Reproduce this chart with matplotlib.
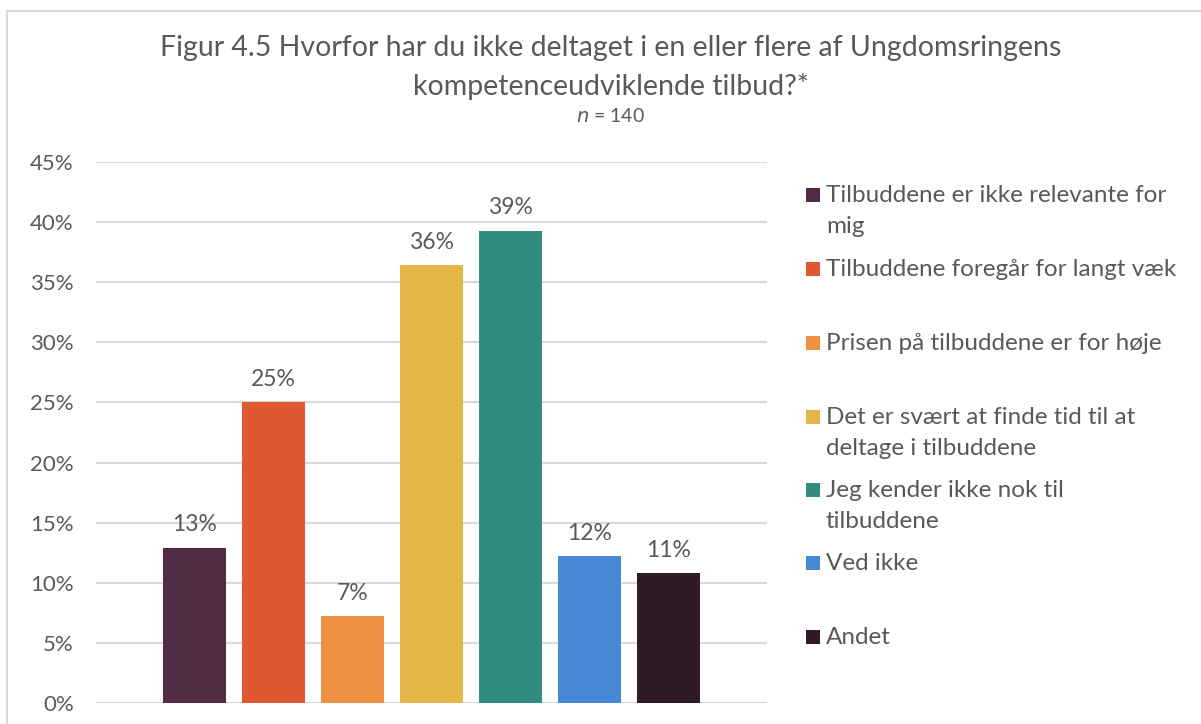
import matplotlib
matplotlib.use("Agg")
import matplotlib.pyplot as plt
from matplotlib.patches import Rectangle
from matplotlib.ticker import FuncFormatter

# ---- data ----
categories = [
    "Tilbuddene er ikke relevante for\nmig",
    "Tilbuddene foregår for langt væk",
    "Prisen på tilbuddene er for høje",
    "Det er svært at finde tid til at\ndeltage i tilbuddene",
    "Jeg kender ikke nok til\ntilbuddene",
    "Ved ikke",
    "Andet",
]
values = [0.129, 0.250, 0.072, 0.364, 0.393, 0.122, 0.108]
value_labels = ["13%", "25%", "7%", "36%", "39%", "12%", "11%"]
colors = ["#522b44", "#e05830", "#ee9142", "#e3b646", "#318b7e", "#4688d6", "#2f1b27"]
yticks = [0, 0.05, 0.10, 0.15, 0.20, 0.25, 0.30, 0.35, 0.40, 0.45]

plt.rcParams['font.family'] = ['Lato', 'DejaVu Sans']
TXT = "#595959"
W, H = 1201, 724
fig = plt.figure(figsize=(W / 100, H / 100), dpi=100)

# outer border
fig.patches.append(Rectangle((7 / W, -0.05), 1.2, 1 - 11 / H + 0.05,
                             transform=fig.transFigure, fill=False,
                             edgecolor="#d9d9d9", linewidth=1.5))

ax = fig.add_axes([96 / W, 1 - 703 / H, (767 - 96) / W, (703 - 162) / H])
n = len(values)
step = 79
bw = 63
left_margin = 67 + bw / 2
total = 671
xs = [(left_margin + i * step) for i in range(n)]
bars = ax.bar(xs, values, width=bw, color=colors, zorder=3)
for b, lab in zip(bars, value_labels):
    ax.annotate(lab, (b.get_x() + b.get_width() / 2, b.get_height()),
                xytext=(0, 9), textcoords="offset points", ha="center", va="bottom",
                fontsize=16.5, color=TXT)

ax.set_xlim(0, total)
ax.set_ylim(0, 0.45)
ax.set_yticks(yticks)
ax.yaxis.set_major_formatter(FuncFormatter(lambda v, p: f"{round(v * 100)}%"))
ax.tick_params(axis="y", length=0, labelsize=16, labelcolor=TXT, pad=16)
ax.set_xticks([])
ax.grid(axis="y", color="#d9d9d9", linewidth=1.5, zorder=0)
for s in ax.spines.values():
    s.set_visible(False)

# title
fig.text(611 / W, 1 - 48 / H, "Figur 4.5 Hvorfor har du ikke deltaget i en eller flere af Ungdomsringens",
         ha="center", va="center", fontsize=20.5, color=TXT)
fig.text(611 / W, 1 - 87 / H, "kompetenceudviklende tilbud?*",
         ha="center", va="center", fontsize=20.5, color=TXT)
fig.text(611 / W, 1 - 116 / H, r"$\it{n}$ = 140",
         ha="center", va="center", fontsize=14, color=TXT)

# legend (manual, evenly spaced like the original)
leg_y = [195, 269, 343, 417, 490, 563, 637]
for lab, c, yy in zip(categories, colors, leg_y):
    fig.patches.append(Rectangle((806 / W, 1 - (yy + 7) / H), 14 / W, 14 / H,
                                 transform=fig.transFigure, facecolor=c, edgecolor="none"))
    fig.text(826 / W, 1 - (yy - 10) / H, lab, ha="left", va="top", fontsize=17.5,
             color=TXT, linespacing=1.6)

fig.savefig("out.png", dpi=100, facecolor="white")
